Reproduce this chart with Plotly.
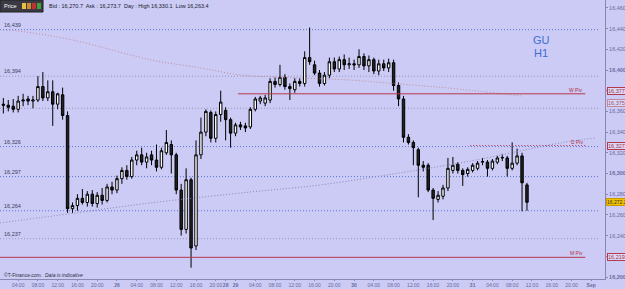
import plotly.graph_objects as go

# ---------------- data ----------------
bar_index = list(range(1, 108))
opens = [16367,16366,16365,16362,16370,16372,16370,16371,16384,16373,16379,16367,16376,16356,16266,
         16269,16276,16272,16280,16271,16279,16274,16287,16284,16295,16303,16297,16313,16318,16311,
         16318,16313,16306,16320,16328,16318,16284,16246,16294,16230,16318,16340,16359,16334,16357,
         16361,16352,16339,16347,16346,16345,16362,16370,16368,16371,16389,16386,16393,16384,16381,
         16389,16387,16412,16405,16397,16387,16395,
         16408,16401,16410,16405,16406,16405,16413,16404,16410,16399,16406,16402,16407,16385,
         16372,16335,16330,16323,16308,16308,16284,16275,16278,16286,16303,16309,16303,16300,16303,
         16305,16311,16311,16305,16311,16315,16315,16305,16310,16317,16289]
highs = [16373,16371,16372,16375,16377,16375,16375,16394,16398,16390,16390,16378,16383,16360,16272,
         16280,16285,16283,16284,16282,16286,16290,16292,16298,16306,16308,16316,16322,16325,16320,
         16322,16328,16325,16342,16332,16320,16290,16305,16296,16332,16354,16362,16361,16360,16380,
         16364,16354,16349,16350,16349,16364,16374,16375,16376,16392,16393,16405,16396,16387,16392,
         16392,16418,16441,16409,16400,16398,16412,
         16412,16413,16415,16412,16410,16420,16416,16414,16412,16410,16410,16411,16410,16388,
         16375,16338,16332,16325,16312,16310,16286,16283,16289,16315,16316,16311,16305,16306,16310,
         16312,16315,16313,16314,16317,16319,16317,16330.1,16324,16320,16291]
lows = [16358,16360,16359,16359,16365,16366,16363,16369,16370,16370,16346,16362,16352,16262,16262,
        16264,16270,16268,16268,16267,16270,16272,16280,16281,16290,16294,16295,16308,16308,16305,
        16308,16302,16304,16318,16300,16280,16240,16242,16209,16226,16314,16336,16330,16330,16350,
        16332,16325,16336,16342,16340,16343,16360,16367,16365,16368,16383,16384,16381,16371,16378,
        16384,16384,16405,16395,16384,16385,16392,
        16398,16398,16400,16401,16400,16402,16400,16398,16396,16395,16399,16398,16380,16365,
        16330,16328,16308,16277,16302,16282,16255,16272,16275,16283,16300,16300,16288,16297,16301,
        16303,16308,16297,16303,16309,16312,16297,16303,16308,16263.4,16264]
closes = [16366,16364,16362,16370,16371,16370,16371,16384,16373,16379,16367,16377,16356,16266,16269,
          16276,16272,16280,16271,16279,16274,16287,16284,16295,16303,16297,16313,16318,16311,16316,
          16313,16306,16322,16330,16318,16284,16246,16294,16228,16318,16340,16360,16334,16357,16369,
          16352,16339,16347,16345,16344,16362,16372,16373,16373,16389,16386,16393,16384,16382,16389,
          16387,16412,16408,16397,16387,16395,16408,
          16401,16410,16405,16406,16405,16413,16404,16410,16399,16406,16402,16407,16385,16372,
          16335,16330,16325,16308,16306,16284,16276,16279,16286,16305,16308,16303,16299,16304,16308,
          16310,16311.5,16305,16312,16315,16315.5,16305,16310,16317,16291,16272.2]

# moving averages (sparse readings)
ma_slow_x = [1, 4, 15, 31, 41, 49, 61, 71, 81, 91, 106]
ma_slow_y = [16438.6, 16437.7, 16429, 16409.7, 16402, 16395.2, 16392.3, 16390.3, 16386.5, 16382.6, 16374.9]
ma_rise_x = [0.3, 15.5, 30.7, 50.9, 65.1, 77.3, 95.5, 113.7, 120.8]
ma_rise_y = [16252.2, 16261.8, 16271.5, 16282.1, 16288.9, 16297.6, 16312, 16329.5, 16334.3]

# horizontal levels
level_values = [16439, 16394, 16363, 16326, 16297, 16264, 16237]
level_labels = ["16,439", "16,394", "", "16,326", "16,297", "16,264", "16,237"]
level_blue = [True, False, False, True, True, True, False]

pivot_names = ["W Piv", "D Piv", "M Piv"]
pivot_values = [16377, 16327, 16219]
pivot_start = [48.5, 95.5, 0.3]
pivot_end = 118.8
ma_last_value = 16375
last_price = 16272.2

y_ticks = list(range(16200, 16461, 20))
x_tick_pos = [4, 8, 12, 16, 20, 24, 28, 32, 36, 40, 44, 46, 48, 52, 56, 60, 64, 68,
              72, 76, 80, 84, 88, 92, 96, 100, 104, 108, 112, 116, 120]
x_tick_text = ["04:00", "08:00", "12:00", "16:00", "20:00", "<b>26</b>", "04:00", "08:00", "12:00",
               "16:00", "20:00", "<b>28</b>", "<b>29</b>", "04:00", "08:00", "12:00", "16:00", "20:00",
               "<b>30</b>", "04:00", "08:00", "12:00", "16:00", "20:00", "<b>31</b>", "04:00", "08:00",
               "12:00", "16:00", "20:00", "<b>Sep</b>"]

# ---------------- layout geometry ----------------
W, H = 625, 289
PW, PH = 605, 279
BG = "#cbcbf5"
FONT = "Liberation Sans, Arial, sans-serif"


def px(x):
    return x / PW


def py(y):
    return 1 - y / PH


Y_TOP = 16200 + 277 / 1.035
Y_BOT = 16200 + (277 - PH) / 1.035
X_L = 0.324
X_R = (PW + 1.6) / 4.94

fig = go.Figure()
fig.add_trace(go.Scatter(x=ma_slow_x, y=ma_slow_y, mode="lines", line_shape="spline",
                         line=dict(color="#c58a9c", width=1, dash="1px,2px"), hoverinfo="skip", showlegend=False))
fig.add_trace(go.Scatter(x=ma_rise_x, y=ma_rise_y, mode="lines", line_shape="spline",
                         line=dict(color="#8c84b4", width=1, dash="1px,2px"), hoverinfo="skip", showlegend=False))
fig.add_trace(go.Candlestick(
    x=bar_index, open=opens, high=highs, low=lows, close=closes,
    increasing=dict(line=dict(color="#000000", width=1), fillcolor="#ffffff"),
    decreasing=dict(line=dict(color="#000000", width=1), fillcolor="#222222"),
    whiskerwidth=0, showlegend=False, hoverinfo="skip"))

shapes = []
annotations = []
for v, lab, blue in zip(level_values, level_labels, level_blue):
    shapes.append(dict(type="line", xref="paper", yref="y", x0=0, x1=px(600), y0=v, y1=v,
                       line=dict(color="#5a78d6" if blue else "#9494bc", width=1, dash="1px,2px"), layer="below"))
    if lab:
        annotations.append(dict(xref="paper", yref="y", x=px(2), y=v, text=lab, showarrow=False,
                                xanchor="left", yanchor="bottom", yshift=0,
                                font=dict(size=5.5, color="#3c3c5c", family=FONT)))

for name, v, s in zip(pivot_names, pivot_values, pivot_start):
    shapes.append(dict(type="line", xref="x", yref="y", x0=s, x1=pivot_end, y0=v, y1=v,
                       line=dict(color="#b8384c", width=1, dash="1px,2px" if name == "D Piv" else "solid")))
    annotations.append(dict(xref="x", yref="y", x=pivot_end, y=v, text=name, showarrow=False,
                            xanchor="right", yanchor="bottom", yshift=-1,
                            font=dict(size=5, color="#b03040", family=FONT)))
    annotations.append(dict(xref="paper", yref="y", x=px(607), y=v, text=f"{v:,.0f}", showarrow=False,
                            xanchor="left", yanchor="bottom" if name == "W Piv" else "middle",
                            yshift=-1 if name == "W Piv" else 0,
                            bgcolor="#d8d8f8", bordercolor="#b8384c",
                            borderwidth=1, borderpad=0,
                            font=dict(size=5.5, color="#b03040", family=FONT)))

annotations.append(dict(xref="paper", yref="y", x=px(607), y=ma_last_value, text=f"{ma_last_value:,.0f}",
                        showarrow=False, xanchor="left", yanchor="top", yshift=-3, bgcolor="#d8d8f8",
                        bordercolor="#c58a9c", borderwidth=1, borderpad=0,
                        font=dict(size=5.5, color="#a05070", family=FONT)))
annotations.append(dict(xref="paper", yref="y", x=px(605.5), y=last_price, text=f"{last_price:,.1f}",
                        showarrow=False, xanchor="left", yanchor="middle", bgcolor="#f2c200",
                        bordercolor="#c89a00", borderwidth=1, borderpad=0,
                        font=dict(size=5, color="#303030", family=FONT)))

# toolbar "Price"
shapes.append(dict(type="rect", xref="paper", yref="paper", x0=px(0), x1=px(43), y0=py(12), y1=py(0),
                   fillcolor="#3a3a44", line=dict(color="#202020", width=1)))
for x0, col in [(22, "#e8c040"), (27, "#d08a30"), (32, "#c03030"), (37, "#40a040")]:
    shapes.append(dict(type="rect", xref="paper", yref="paper", x0=px(x0), x1=px(x0 + 4),
                       y0=py(9), y1=py(3), fillcolor=col, line=dict(width=0)))
annotations.append(dict(xref="paper", yref="paper", x=px(2), y=py(6), text="Price", showarrow=False,
                        xanchor="left", yanchor="middle", font=dict(size=5.5, color="#ffffff", family=FONT)))
annotations.append(dict(xref="paper", yref="paper", x=px(47), y=py(6),
                        text="Bid : 16,270.7  Ask : 16,273.7  Day : High 16,330.1  Low 16,263.4",
                        showarrow=False, xanchor="left", yanchor="middle",
                        font=dict(size=5.5, color="#202030", family=FONT)))
annotations.append(dict(xref="paper", yref="paper", x=px(541), y=py(40), text="GU", showarrow=False,
                        xanchor="center", yanchor="middle", font=dict(size=11, color="#3d6fd0", family=FONT)))
annotations.append(dict(xref="paper", yref="paper", x=px(541), y=py(53), text="H1", showarrow=False,
                        xanchor="center", yanchor="middle", font=dict(size=11, color="#3d6fd0", family=FONT)))
annotations.append(dict(xref="paper", yref="paper", x=px(2), y=py(275),
                        text="©T-Finance.com.  <i>Data is indicative</i>", showarrow=False,
                        xanchor="left", yanchor="middle", font=dict(size=5, color="#303040", family=FONT)))

fig.update_layout(
    width=W, height=H, margin=dict(l=0, r=W - PW, t=0, b=H - PH),
    paper_bgcolor=BG, plot_bgcolor=BG, template="none",
    font=dict(family=FONT, size=6, color="#7070a0"),
    shapes=shapes, annotations=annotations, showlegend=False,
    xaxis=dict(range=[X_L, X_R], tickvals=x_tick_pos, ticktext=x_tick_text, ticks="outside",
               ticklen=1, tickcolor="#8888b0", showgrid=False, zeroline=False, showline=True,
               linecolor="#8888b0", linewidth=1, rangeslider=dict(visible=False), automargin=False,
               tickangle=0, tickfont=dict(size=5, color="#6a6aa0")),
    yaxis=dict(range=[Y_BOT, Y_TOP], side="right", tickvals=y_ticks,
               ticktext=[(f"<b>{v:,}</b>" if v % 100 == 0 else f"{v:,}") for v in y_ticks],
               ticks="outside", ticklen=2, tickcolor="#8888b0", showgrid=False, zeroline=False,
               showline=True, linecolor="#8888b0", linewidth=1, automargin=False,
               tickfont=dict(size=5.5, color="#6a6aa0")),
)

fig.write_html("out.html")
